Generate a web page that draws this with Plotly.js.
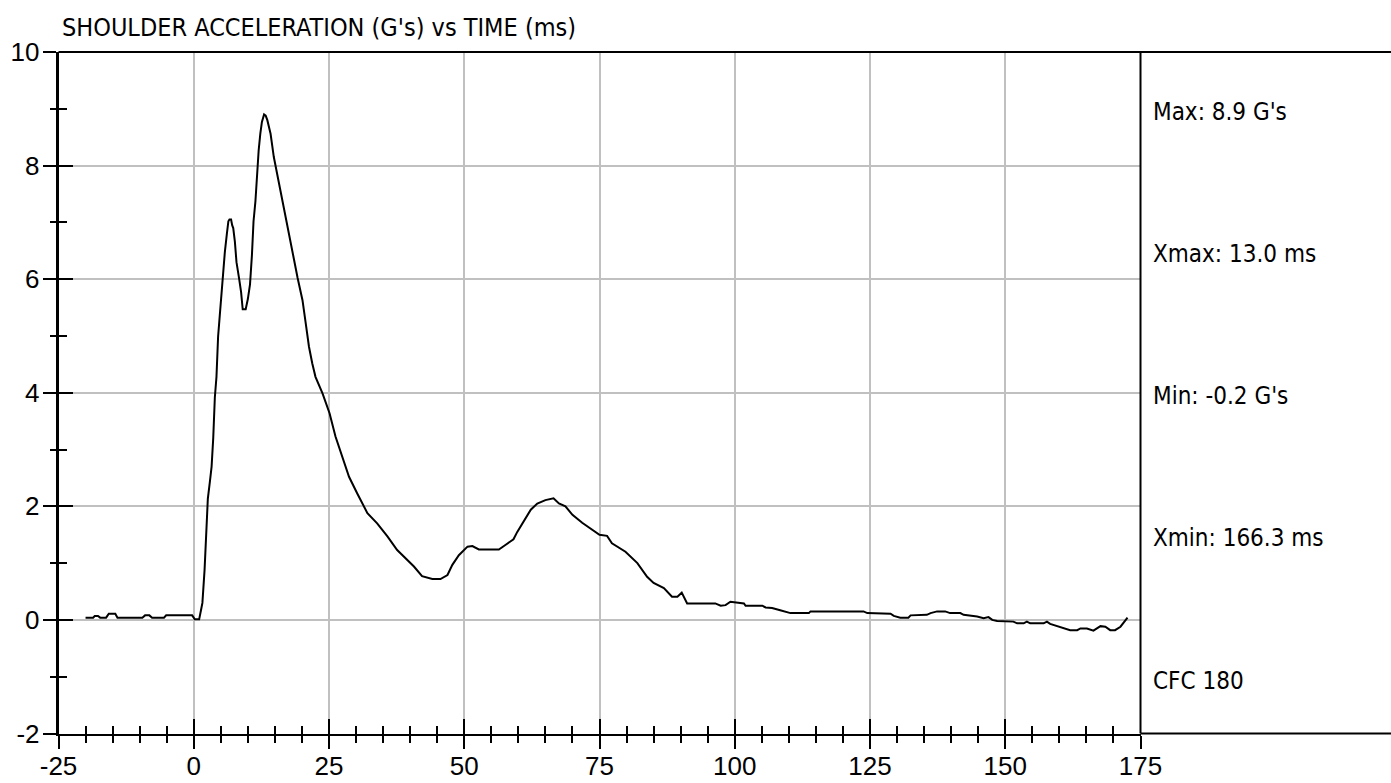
<!DOCTYPE html>
<html>
<head>
<meta charset="utf-8">
<script src="https://cdn.plot.ly/plotly-3.0.1.min.js"></script>
<style>
html,body{margin:0;padding:0;background:#fff;}
#chart{width:1391px;height:783px;}
</style>
</head>
<body>
<div id="chart"></div>
<script>
// ---- data ----
const timeMs = [-20, -18.6, -18.3, -17.7, -17.3, -16.2, -15.7, -14.5, -14.1, -9.5, -9.0, -8.2, -7.7, -5.5, -5.1, -0.3, 0.2, 1.0, 1.4, 1.6,
  2.0, 2.3, 2.6, 3.0, 3.3, 3.6, 3.9, 4.2, 4.5, 4.8, 5.1, 5.4, 5.75, 6.1, 6.4, 6.6, 6.9, 7.1, 7.3, 7.6,
  7.9, 8.4, 8.75, 9.05, 9.6, 10.0, 10.4, 10.75, 11.05, 11.4, 11.7, 12.0, 12.3, 12.6, 13.0, 13.3, 13.6, 14.2, 14.8, 15.4,
  16.1, 16.7, 17.3, 17.9, 18.5, 19.2, 20.1, 20.7, 21.3, 21.9, 22.5, 23.8, 25.1, 26.2, 27.5, 28.7, 30.2, 32.1, 33.9, 35.8,
  37.6, 38.9, 40.7, 42.2, 44.1, 45.6, 46.9, 47.8, 49.0, 50.6, 51.5, 52.7, 56.4, 57.6, 59.1, 59.8, 61.0, 62.3, 63.5, 65.0,
  66.5, 67.5, 68.7, 70.0, 71.8, 73.3, 75.0, 76.4, 77.3, 79.8, 82.0, 83.8, 85.0, 86.9, 88.4, 89.4, 90.2, 91.2, 93.7, 96.4,
  97.4, 98.3, 99.2, 100.1, 101.7, 102.0, 105.1, 105.7, 106.9, 108.4, 110.3, 113.7, 114.0, 123.8, 124.5, 128.8, 129.4, 130.6, 132.1, 132.5,
  135.5, 136.2, 137.4, 138.9, 139.8, 141.7, 142.3, 144.8, 146.0, 146.9, 147.6, 148.5, 151.5, 152.2, 153.4, 154.0, 154.6, 157.1, 157.7, 158.3,
  159.9, 161.1, 162.0, 163.3, 163.9, 165.1, 166.3, 167.6, 168.5, 169.4, 170.3, 171.3, 171.9, 172.6];
const accelG = [0.04, 0.04, 0.07, 0.07, 0.04, 0.04, 0.11, 0.11, 0.04, 0.04, 0.08, 0.08, 0.04, 0.04, 0.08, 0.08, 0.01, 0.01, 0.2, 0.3,
  0.88, 1.42, 2.13, 2.45, 2.7, 3.2, 3.92, 4.28, 4.99, 5.35, 5.7, 6.18, 6.48, 6.78, 7.02, 7.05, 7.05, 6.95, 6.9, 6.66,
  6.3, 6.0, 5.77, 5.47, 5.47, 5.65, 5.91, 6.42, 7.02, 7.37, 7.85, 8.27, 8.56, 8.77, 8.9, 8.88, 8.8, 8.56, 8.15, 7.85,
  7.55, 7.2, 6.96, 6.64, 6.36, 6.02, 5.63, 5.22, 4.81, 4.52, 4.28, 3.99, 3.64, 3.23, 2.88, 2.52, 2.23, 1.88, 1.70, 1.47,
  1.23, 1.11, 0.94, 0.77, 0.72, 0.72, 0.79, 0.97, 1.14, 1.29, 1.30, 1.24, 1.24, 1.32, 1.42, 1.55, 1.73, 1.94, 2.05, 2.11,
  2.14, 2.05, 2.0, 1.85, 1.71, 1.61, 1.50, 1.48, 1.35, 1.20, 1.00, 0.76, 0.65, 0.56, 0.41, 0.41, 0.48, 0.29, 0.29, 0.29,
  0.25, 0.26, 0.32, 0.31, 0.29, 0.25, 0.25, 0.22, 0.21, 0.17, 0.12, 0.12, 0.15, 0.15, 0.12, 0.11, 0.07, 0.04, 0.04, 0.08,
  0.09, 0.12, 0.15, 0.15, 0.12, 0.12, 0.09, 0.06, 0.03, 0.05, 0.0, -0.02, -0.03, -0.06, -0.06, -0.03, -0.06, -0.06, -0.03, -0.07,
  -0.12, -0.16, -0.18, -0.18, -0.15, -0.15, -0.19, -0.11, -0.12, -0.18, -0.18, -0.12, -0.05, 0.04];
const chartTitle = "SHOULDER ACCELERATION (G's) vs TIME (ms)";
const statLabels = ["Max: 8.9 G's", "Xmax: 13.0 ms", "Min: -0.2 G's", "Xmin: 166.3 ms", "CFC 180"];
const xTickVals = [-25, 0, 25, 50, 75, 100, 125, 150, 175];
const xTickText = ["-25", "0", "25", "50", "75", "100", "125", "150", "175"];
const yTickVals = [-2, 0, 2, 4, 6, 8, 10];
const yTickText = ["-2", "0", "2", "4", "6", "8", "10"];
const xRange = [-25, 175];
const yRange = [-2, 10];

// ---- layout geometry ----
const W = 1391, H = 783;
const xDom = [58.5 / W, 1140.5 / W];
const yDom = [(H - 733.5) / H, (H - 52) / H];
const narrow = "DejaVu Sans Condensed, DejaVu Sans, sans-serif";
const regular = "Liberation Sans, Arial, sans-serif";

const traces = [
  {x: timeMs, y: accelG, type: 'scatter', mode: 'lines', xaxis: 'x', yaxis: 'y',
   line: {color: '#000', width: 2}, hoverinfo: 'skip', showlegend: false},
  {x: [], y: [], type: 'scatter', mode: 'lines', xaxis: 'x2', yaxis: 'y', showlegend: false},
  {x: [], y: [], type: 'scatter', mode: 'lines', xaxis: 'x', yaxis: 'y2', showlegend: false}
];

const statY = [112, 254, 396, 538, 681];
const annotations = statLabels.map((t, i) => ({
  text: t, xref: 'paper', yref: 'paper', x: 1151 / W, y: (H - statY[i]) / H,
  xanchor: 'left', yanchor: 'middle', showarrow: false,
  font: {family: narrow, size: 24, color: '#000'}
}));

const layout = {
  width: W, height: H,
  margin: {l: 0, r: 0, t: 0, b: 0, pad: 0},
  paper_bgcolor: '#fff', plot_bgcolor: '#fff',
  showlegend: false,
  title: {text: chartTitle, x: 62 / W, xanchor: 'left', y: (H - 27) / H, yanchor: 'middle',
          font: {family: narrow, size: 25, color: '#000'}},
  xaxis: {domain: xDom, range: xRange, anchor: 'y', tickvals: xTickVals, showticklabels: false,
          ticks: 'outside', ticklen: 13, tickwidth: 2, tickcolor: '#000',
          showgrid: true, gridcolor: '#c0c0c0', gridwidth: 2, zeroline: false,
          showline: true, linecolor: '#000', linewidth: 2,
          minor: {dtick: 5, tick0: -25, ticks: 'outside', ticklen: 7, tickwidth: 2, tickcolor: '#000', showgrid: false},
          fixedrange: true},
  xaxis2: {overlaying: 'x', anchor: 'y', side: 'bottom', range: xRange,
           tickmode: 'array', tickvals: xTickVals, ticktext: xTickText,
           ticks: 'inside', ticklen: 15, tickwidth: 2, tickcolor: '#000', showticklabels: true,
           tickfont: {family: regular, size: 26, color: '#000'}, ticklabelstandoff: 14,
           showgrid: false, zeroline: false, showline: false,
           minor: {dtick: 5, tick0: -25, ticks: 'inside', ticklen: 8, tickwidth: 2, tickcolor: '#000', showgrid: false}},
  yaxis: {domain: yDom, range: yRange, anchor: 'x', tickvals: yTickVals, showticklabels: false,
          ticks: 'outside', ticklen: 13, tickwidth: 2, tickcolor: '#000',
          showgrid: true, gridcolor: '#c0c0c0', gridwidth: 2, zeroline: false,
          showline: true, linecolor: '#000', linewidth: 3,
          minor: {dtick: 1, tick0: -2, ticks: 'outside', ticklen: 6, tickwidth: 2, tickcolor: '#000', showgrid: false},
          fixedrange: true},
  yaxis2: {overlaying: 'y', anchor: 'x', side: 'left', range: yRange,
           tickmode: 'array', tickvals: yTickVals, ticktext: yTickText,
           ticks: 'inside', ticklen: 14, tickwidth: 2, tickcolor: '#000', showticklabels: true,
           tickfont: {family: regular, size: 26, color: '#000'}, ticklabelstandoff: 18,
           showgrid: false, zeroline: false, showline: false,
           minor: {dtick: 1, tick0: -2, ticks: 'inside', ticklen: 8, tickwidth: 2, tickcolor: '#000', showgrid: false}},
  shapes: [
    {type: 'line', xref: 'paper', yref: 'paper', x0: xDom[0], x1: 1, y0: yDom[1], y1: yDom[1], line: {color: '#000', width: 2}},
    {type: 'line', xref: 'paper', yref: 'paper', x0: xDom[1], x1: 1, y0: yDom[0], y1: yDom[0], line: {color: '#000', width: 2}},
    {type: 'line', xref: 'paper', yref: 'paper', x0: xDom[1], x1: xDom[1], y0: yDom[0], y1: yDom[1], line: {color: '#000', width: 2}}
  ],
  annotations: annotations
};

Plotly.newPlot('chart', traces, layout, {staticPlot: true, displayModeBar: false});
</script>
</body>
</html>
